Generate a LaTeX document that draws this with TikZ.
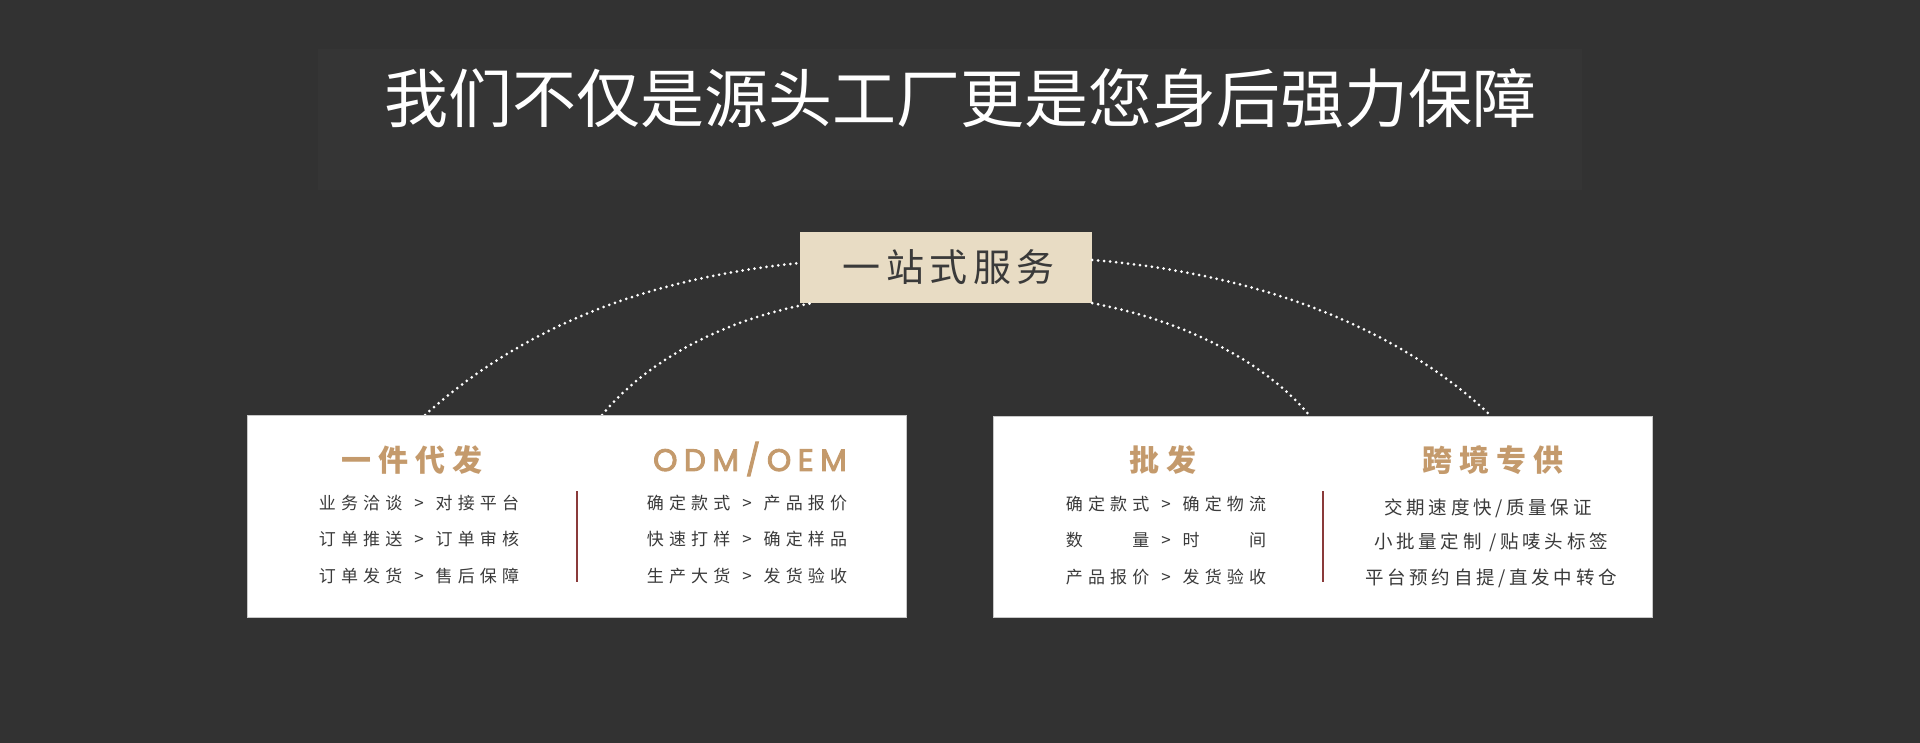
\documentclass[tikz,border=0pt]{standalone}
\usepackage{fontspec}
\setmainfont{Noto Sans CJK SC}
\newfontfamily\cjk{Noto Sans CJK SC}
\newfontfamily\popp{Poppins}[FakeBold=3]
\usetikzlibrary{calc}
\definecolor{bg}{HTML}{323232}
\definecolor{titleshade}{HTML}{353535}
\definecolor{tanc}{HTML}{C49A6C}
\definecolor{beige}{HTML}{E8DCC4}
\definecolor{txt}{HTML}{3A3A3A}
\definecolor{divred}{HTML}{8A3A3A}
\definecolor{edge}{HTML}{C8C8C8}
\newcommand{\gt}{\hspace{12pt}>\hspace{12pt}}
\tikzset{
  panel/.style={draw=edge, line width=1pt, fill=white, inner sep=0pt, anchor=north west},
  hubbox/.style={fill=beige, inner sep=0pt, minimum width=292pt, minimum height=71pt,
    text=txt, font=\cjk\fontsize{38}{42}\selectfont\addfontfeature{LetterSpace=14.5}},
  titletext/.style={inner sep=0pt, text=white, font=\cjk\fontsize{64}{70}\selectfont},
  head/.style={inner sep=0pt, text=tanc, font=\cjk\bfseries\fontsize{30}{34}\selectfont\addfontfeature{LetterSpace=24}},
  headlat/.style={inner sep=0pt, text=tanc, font=\popp\fontsize{31}{34}\selectfont\addfontfeature{LetterSpace=21}},
  body/.style={inner sep=0pt, text=txt, font=\cjk\fontsize{17}{20}\selectfont\addfontfeature{LetterSpace=30}},
  bodyb/.style={inner sep=0pt, text=txt, font=\cjk\fontsize{18.5}{22}\selectfont\addfontfeature{LetterSpace=20}},
  dotline/.style={draw=white, line width=3pt, line cap=round, dash pattern=on 0pt off 6pt},
  divider/.style={draw=divred, line width=2pt}
}
\begin{document}
\begin{tikzpicture}[x=1pt,y=-1pt]
\useasboundingbox (0,0) rectangle (1920,743);
\fill[bg] (0,0) rectangle (1920,743);
\fill[titleshade] (318,49) rectangle (1582,190);
\node[titletext] (title) at (960,98) {我们不仅是源头工厂更是您身后强力保障};

\node[hubbox] (hub) at (946,267.5) {\hspace*{5.5pt}一站式服务};

\coordinate (l1) at (425,415);
\coordinate (l2) at (602,415);
\coordinate (r2) at (1309,415);
\coordinate (r1) at (1490,415);

\draw[dotline] (l1) .. controls +(100,-90) and +(-150,15) .. ([yshift=4.5pt]hub.west);
\draw[dotline] (l2) .. controls +(50,-60) and +(-80,15) .. ([xshift=12pt]hub.south west);
\draw[dotline] ([yshift=7.5pt]hub.east) .. controls +(150,12) and +(-100,-95) .. (r1);
\draw[dotline] (hub.south east) .. controls +(80,15) and +(-50,-60) .. (r2);

\node[panel, minimum width=659pt, minimum height=202pt] (lbox) at (247,415) {};
\node[panel, minimum width=659pt, minimum height=201pt] (rbox) at (993,416) {};

\draw[divider] (577,491) -- (577,582);
\draw[divider] (1323,491) -- (1323,582);

% left box, column 1
\node[head] (h1) at (412,460) {一件代发};
\node[body] (a1) at (419,503) {业务洽谈\gt 对接平台};
\node[body] (a2) at (419,539) {订单推送\gt 订单审核};
\node[body] (a3) at (419,576) {订单发货\gt 售后保障};
% left box, column 2
\node[headlat] (h2) at (750,459) {ODM/OEM};
\node[body] (b1) at (747,503) {确定款式\gt 产品报价};
\node[body] (b2) at (747,539) {快速打样\gt 确定样品};
\node[body] (b3) at (747,576) {生产大货\gt 发货验收};
% right box, column 1
\node[head] (h3) at (1163,460) {批发};
\node[body] (c1) at (1166,504) {确定款式\gt 确定物流};
\node[body] (c2) at (1166,540) {数　　量\gt 时　　间};
\node[body] (c3) at (1166,577) {产品报价\gt 发货验收};
% right box, column 2
\node[head] (h4) at (1493,460) {跨境专供};
\node[bodyb] (d1) at (1488,508) {交期速度快/质量保证};
\node[bodyb] (d2) at (1491,542) {小批量定制 /贴唛头标签};
\node[bodyb] (d3) at (1491,578) {平台预约自提/直发中转仓};
\end{tikzpicture}
\end{document}
